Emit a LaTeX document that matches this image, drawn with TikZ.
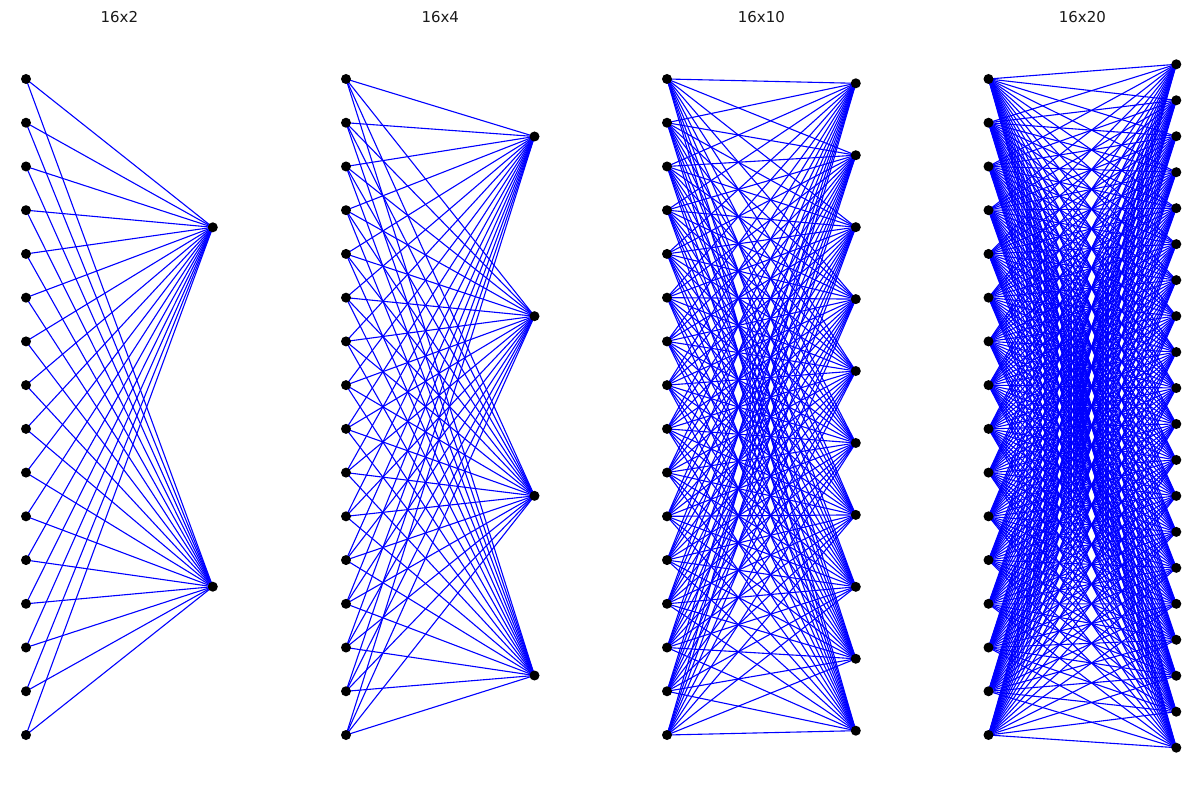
\documentclass[tikz,border=0pt]{standalone}
\usepackage{fontspec}
\setmainfont{DejaVu Sans}
\usetikzlibrary{backgrounds}
\begin{document}
\begin{tikzpicture}[x=1pt,y=-1pt,
  dot/.style={circle,fill=black,inner sep=0pt,minimum size=10pt},
  edge/.style={draw=blue,line width=1.1pt},
  ttl/.style={font=\fontsize{15}{17}\selectfont,text=black!90}]
\useasboundingbox (0,0) rectangle (1200,791);
\def\panels{1/26/212.8/2/227.3/586.7, 2/346/534.5/4/136.5/675.5, 3/667/855.8/10/83.3/730.7, 4/988.5/1176.3/20/64.3/747.7}
\foreach \p/\xl/\xr/\n/\top/\bot in \panels {
  \foreach \i in {1,...,16} {
    \pgfmathsetmacro\yy{79+(\i-1)*(735-79)/15}
    \node[dot] (L\p-\i) at (\xl,\yy) {};
  }
  \foreach \j in {1,...,\n} {
    \pgfmathsetmacro\yy{\top+(\j-1)*(\bot-\top)/(\n-1)}
    \node[dot] (R\p-\j) at (\xr,\yy) {};
  }
  \node[ttl] (T\p) at ({(\xl+\xr)/2},17) {16x\n};
}
\begin{pgfonlayer}{background}
\foreach \p/\xl/\xr/\n/\top/\bot in \panels {
  \foreach \i in {1,...,16} {
    \foreach \j in {1,...,\n} {
      \draw[edge] (L\p-\i.center) -- (R\p-\j.center);
    }
  }
}
\end{pgfonlayer}
\end{tikzpicture}
\end{document}
